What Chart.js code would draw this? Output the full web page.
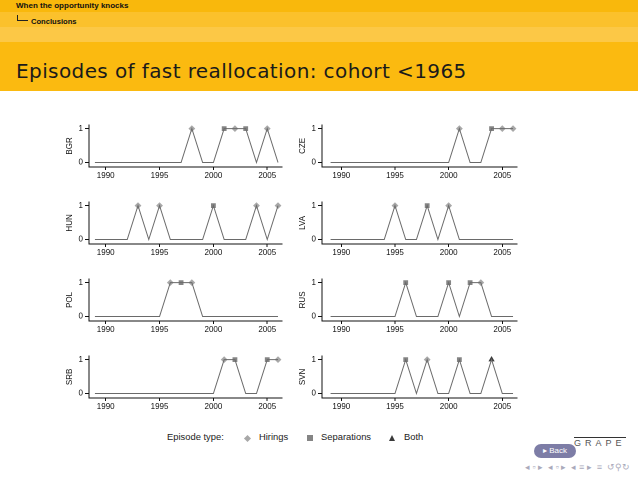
<!DOCTYPE html>
<html lang="en">
<head>
  <meta charset="UTF-8" />
  <title>Episodes of fast reallocation</title>
  <script src="https://cdn.jsdelivr.net/npm/chart.js"></script>
  <style>
    * {
      margin: 0;
      padding: 0;
      box-sizing: border-box;
    }

    body {
      width: 638px;
      height: 479px;
      background: #fff;
      position: relative;
      overflow: hidden;
      font-family: 'Liberation Sans', Arial, sans-serif;
    }

    .band {
      position: absolute;
      left: 0;
      width: 638px;
    }

    .b1 { top: 0; height: 12px; background: #f9b80c; }
    .b2 { top: 12px; height: 15px; background: #fbc12c; }
    .b3 { top: 27px; height: 15px; background: #fcc846; }
    .b4 { top: 42px; height: 49px; background: #fbba10; }

    .sect {
      position: absolute;
      left: 16px;
      top: 1px;
      font-size: 8px;
      font-weight: bold;
      color: #111;
    }

    .subsect {
      position: absolute;
      left: 31px;
      top: 17px;
      font-size: 7.6px;
      font-weight: bold;
      color: #111;
    }

    .tree {
      position: absolute;
      left: 17px;
      top: 15px;
      width: 11px;
      height: 6px;
      border-left: 1px solid #222;
      border-bottom: 1px solid #222;
    }

    .title {
      position: absolute;
      left: 16px;
      top: 59px;
      font-family: 'DejaVu Sans', sans-serif;
      font-size: 20px;
      letter-spacing: 0.4px;
      color: #1a1a1a;
      white-space: nowrap;
    }

    canvas {
      position: absolute;
    }

    .legend {
      position: absolute;
      top: 431px;
      left: 167px;
      font-size: 9.4px;
      color: #222;
      white-space: nowrap;
    }

    .legend span { position: absolute; top: 0; }
    .mk { display: inline-block; }

    .back {
      position: absolute;
      left: 534px;
      top: 444px;
      width: 42px;
      height: 14px;
      border-radius: 7px;
      background: #7d7da6;
      color: #fff;
      font-size: 8px;
      line-height: 14px;
      text-align: center;
    }

    .grape {
      position: absolute;
      left: 574px;
      top: 437px;
      font-size: 9px;
      letter-spacing: 4px;
      color: #555;
      border-top: 1px solid #333;
      line-height: 11px;
    }

    .nav {
      position: absolute;
      top: 462px;
      left: 525px;
      font-size: 9px;
      color: #aab;
      white-space: nowrap;
    }
  </style>
</head>
<body>
  <div class="band b1"></div>
  <div class="band b2"></div>
  <div class="band b3"></div>
  <div class="band b4"></div>
  <div class="sect">When the opportunity knocks</div>
  <div class="tree"></div>
  <div class="subsect">Conclusions</div>
  <div class="title">Episodes of fast reallocation: cohort &lt;1965</div>

  <canvas id="c0"></canvas>
  <canvas id="c1"></canvas>
  <canvas id="c2"></canvas>
  <canvas id="c3"></canvas>
  <canvas id="c4"></canvas>
  <canvas id="c5"></canvas>
  <canvas id="c6"></canvas>
  <canvas id="c7"></canvas>

  <div class="legend">
    <span style="left:0">Episode type:</span>
    <span style="left:78px; top:1px"><i class="mk" style="width:5px;height:5px;background:#a8a8a8;transform:rotate(45deg)"></i></span>
    <span style="left:92px">Hirings</span>
    <span style="left:140px; top:1px"><i class="mk" style="width:6px;height:6px;background:#858585"></i></span>
    <span style="left:154px">Separations</span>
    <span style="left:222px; top:1px"><i class="mk" style="width:0;height:0;border-left:3.5px solid transparent;border-right:3.5px solid transparent;border-bottom:6px solid #3a3a3a"></i></span>
    <span style="left:237px">Both</span>
  </div>

  <div class="grape">GRAPE</div>
  <div class="back">&#9656; Back</div>
  <div class="nav">&#9666; &#9643; &#9656; &nbsp;&#9666; &#9643; &#9656; &nbsp;&#9666; &#8801; &#9656; &nbsp;&#8801; &nbsp;&#8634;&#9906;&#8635;</div>

  <script>
    const years = [1989, 1990, 1991, 1992, 1993, 1994, 1995, 1996, 1997, 1998,
                   1999, 2000, 2001, 2002, 2003, 2004, 2005, 2006];

    // episode type per year: 0 none, 'H' hirings, 'S' separations, 'B' both
    const BGR = [0, 0, 0, 0, 0, 0, 0, 0, 0, 'H', 0, 0, 'S', 'H', 'S', 0, 'H', 0];
    const CZE = [0, 0, 0, 0, 0, 0, 0, 0, 0, 0, 0, 0, 'H', 0, 0, 'S', 'H', 'H'];
    const HUN = [0, 0, 0, 0, 'H', 0, 'H', 0, 0, 0, 0, 'S', 0, 0, 0, 'H', 0, 'H'];
    const LVA = [0, 0, 0, 0, 0, 0, 'H', 0, 0, 'S', 0, 'H', 0, 0, 0, 0, 0, 0];
    const POL = [0, 0, 0, 0, 0, 0, 0, 'H', 'S', 'H', 0, 0, 0, 0, 0, 0, 0, 0];
    const RUS = [0, 0, 0, 0, 0, 0, 0, 'S', 0, 0, 0, 'S', 0, 'S', 'H', 0, 0, 0];
    const SRB = [0, 0, 0, 0, 0, 0, 0, 0, 0, 0, 0, 0, 'H', 'S', 0, 0, 'S', 'H'];
    const SVN = [0, 0, 0, 0, 0, 0, 0, 'S', 0, 'H', 0, 0, 'S', 0, 0, 'B', 0, 0];

    const countries = ['BGR', 'CZE', 'HUN', 'LVA', 'POL', 'RUS', 'SRB', 'SVN'];
    const episodes = [BGR, CZE, HUN, LVA, POL, RUS, SRB, SVN];

    const xTicks = [1990, 1995, 2000, 2005];
    const yTicks = [0, 1];

    const lineGray = '#6a6a6a';
    const markers = {
      H: { style: 'rectRot', color: '#a8a8a8', r: 3.4 },
      S: { style: 'rect', color: '#858585', r: 3.4 },
      B: { style: 'triangle', color: '#3a3a3a', r: 3.6 }
    };

    // chart-area placement per column / row
    const colLeft = [89, 322];
    const colRight = [282, 517];
    const colMin = [1988.45, 1988.2];
    const rowTop = [122.7, 200, 277.3, 354.3];
    const areaH = 44;
    const yAxisW = 31;
    const xAxisH = 14;
    const padTop = 5;
    const padRight = 4;

    const tickFont = { family: "'Liberation Sans', Arial, sans-serif", size: 8 };

    countries.forEach(function (name, i) {
      const col = i % 2;
      const row = Math.floor(i / 2);
      const canvas = document.getElementById('c' + i);
      const left = colLeft[col] - yAxisW;
      const w = colRight[col] - left + padRight;
      const h = padTop + areaH + xAxisH;
      canvas.style.left = left + 'px';
      canvas.style.top = (rowTop[row] - padTop) + 'px';
      canvas.width = w;
      canvas.height = h;

      const ep = episodes[i];
      const lineData = years.map(function (y, k) { return { x: y, y: ep[k] ? 1 : 0 }; });
      const sets = [{
        type: 'line',
        data: lineData,
        borderColor: lineGray,
        borderWidth: 1,
        pointRadius: 0,
        tension: 0
      }];
      ['H', 'S', 'B'].forEach(function (t) {
        const pts = [];
        years.forEach(function (y, k) { if (ep[k] === t) pts.push({ x: y, y: 1 }); });
        if (pts.length) {
          sets.push({
            type: 'scatter',
            data: pts,
            pointStyle: markers[t].style,
            pointRadius: markers[t].r,
            backgroundColor: markers[t].color,
            borderColor: markers[t].color,
            borderWidth: 0
          });
        }
      });

      new Chart(canvas, {
        data: { datasets: sets },
        options: {
          responsive: false,
          animation: false,
          devicePixelRatio: 2,
          layout: { padding: { top: padTop, right: padRight, left: 0, bottom: 0 } },
          plugins: { legend: { display: false }, tooltip: { enabled: false } },
          scales: {
            x: {
              type: 'linear',
              min: colMin[col],
              max: 2006.37,
              afterBuildTicks: function (s) { s.ticks = xTicks.map(function (v) { return { value: v }; }); },
              afterFit: function (s) { s.height = xAxisH; },
              ticks: {
                font: tickFont, color: '#111', padding: 1, maxRotation: 0, autoSkip: false,
                callback: function (v) { return String(v); }
              },
              grid: { drawOnChartArea: false, drawTicks: true, tickLength: 3, color: '#111' },
              border: { display: true, color: '#111', width: 1 }
            },
            y: {
              type: 'linear',
              min: -0.133,
              max: 1.113,
              afterBuildTicks: function (s) { s.ticks = yTicks.map(function (v) { return { value: v }; }); },
              afterFit: function (s) { s.width = yAxisW; },
              title: { display: true, text: name, font: tickFont, color: '#111', padding: { top: 7, bottom: 0 } },
              ticks: { font: tickFont, color: '#111', padding: 2, callback: function (v) { return String(v); } },
              grid: { drawOnChartArea: false, drawTicks: true, tickLength: 4, color: '#111' },
              border: { display: true, color: '#111', width: 1 }
            }
          }
        }
      });
    });
  </script>
</body>
</html>
